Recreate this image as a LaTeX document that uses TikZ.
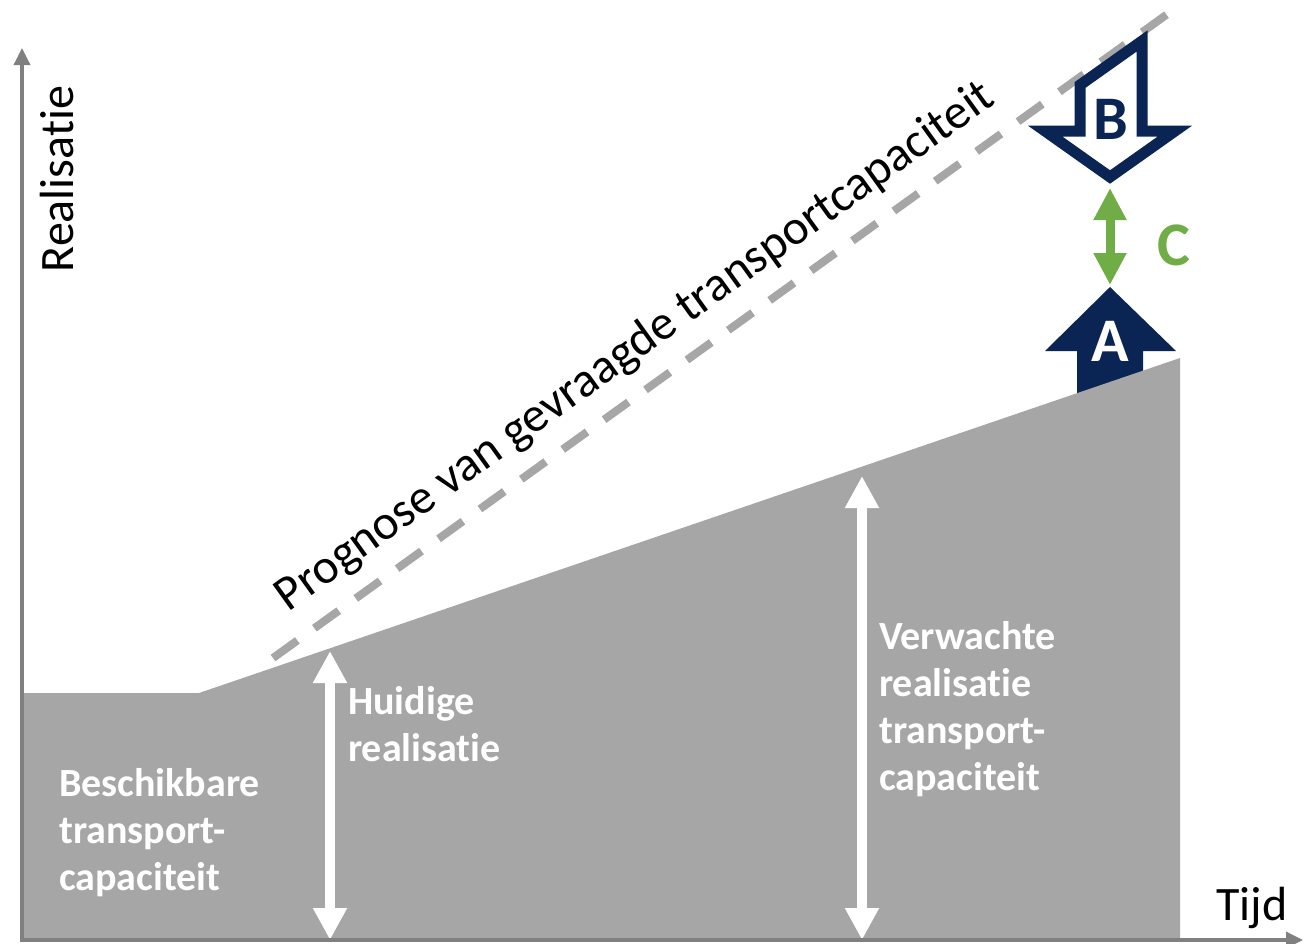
\documentclass[tikz,border=0pt]{standalone}
\usepackage{fontspec}
\setmainfont{Carlito}[Ligatures=NoCommon]
\usetikzlibrary {arrows.meta}
\usetikzlibrary {calc}
\usetikzlibrary {math}

\definecolor{navy}{HTML}{0A2453}
\definecolor{areagray}{HTML}{A6A6A6}
\definecolor{axisgray}{HTML}{808080}
\definecolor{leafgreen}{HTML}{70AD47}

\begin{document}
\begin{tikzpicture}[x=1pt, y=-1pt, line join=miter,
    axisline/.style={draw=axisgray, line width=3.5pt, {Triangle[width=16pt, length=17pt]}-{Triangle[width=16pt, length=17pt]}},
    whitespan/.style={draw=white, line width=10pt, {Triangle[width=32pt, length=32pt]}-{Triangle[width=32pt, length=32pt]}},
    boxtext/.style={text=white, font=\bfseries\fontsize{40}{47}\selectfont, align=left, anchor=north west, inner sep=0pt},
    markletter/.style={font=\bfseries\fontsize{62}{70}\selectfont, inner sep=0pt},
    axistext/.style={font=\fontsize{48}{56}\selectfont, inner sep=0pt}]

    \useasboundingbox (0,0) rectangle (1311,943);

    \tikzmath{
        \xo = 22;
        \yo = 940;
        \slope = 35.75;
    };
    \coordinate (O) at (\xo, \yo);
    \coordinate (yEnd) at (\xo, 48);
    \coordinate (xEnd) at (1303, \yo);
    \coordinate (kneeL) at (\xo, 693);
    \coordinate (knee) at (199, 693);
    \coordinate (topR) at (1180, 358);
    \coordinate (botR) at (1180, \yo);
    \coordinate (dashA) at (273, 658);
    \coordinate (dashB) at (1173, 10);

    % forecast line
    \draw[areagray, line width=8pt, dash pattern=on 30pt off 21pt] (dashA) -- (dashB);
    \coordinate (progStart) at ($(dashA)!39pt!(dashB)$);
    \node[axistext, font=\fontsize{49}{58}\selectfont, rotate=\slope, anchor=base west] (prognose) at ($(progStart)!28pt!90:(dashB)$) {Prognose van gevraagde transportcapaciteit};

    % arrow A, partly hidden by the area
    \fill[navy] (1077,400) -- (1077,351) -- (1045,351) -- (1110,287) -- (1176,351) -- (1143,351) -- (1143,400) -- cycle;

    \fill[areagray] (O) -- (kneeL) -- (knee) -- (topR) -- (botR) -- cycle;

    \coordinate (nowTop) at (330, 651);
    \coordinate (nowBot) at (330, \yo);
    \coordinate (expTop) at (862, 476);
    \coordinate (expBot) at (862, \yo);
    \draw[whitespan] (nowTop) -- (nowBot);
    \draw[whitespan] (expTop) -- (expBot);

    \node[boxtext] (available) at (59, 768) {Beschikbare\\transport-\\capaciteit};
    \node[boxtext] (current) at (348, 686) {Huidige\\realisatie};
    \node[boxtext] (expected) at (879, 621) {Verwachte\\realisatie\\transport-\\capaciteit};

    % arrow B
    \draw[navy, fill=white, line width=11pt] (1080,131) -- (1080,85) -- (1142,41) -- (1142,131) -- (1175,131) -- (1110,177) -- (1045,131) -- cycle;

    \coordinate (gapTop) at (1110, 188);
    \coordinate (gapBot) at (1110, 285);
    \draw[leafgreen, line width=9pt, {Triangle[width=31pt, length=32pt]}-{Triangle[width=31pt, length=32pt]}] (gapTop) -- (gapBot);

    \node[markletter, text=navy] (bLetter) at (1111, 119) {B};
    \node[markletter, text=white] (aLetter) at (1110, 341) {A};
    \node[markletter, text=leafgreen] (cLetter) at (1174, 245) {C};

    \draw[axisline] (yEnd) -- (O) -- (xEnd);
    \node[axistext, rotate=90, anchor=base] (yLabel) at (73, 179) {Realisatie};
    \node[axistext, anchor=base] (xLabel) at (1252, 920) {Tijd};

\end{tikzpicture}
\end{document}
